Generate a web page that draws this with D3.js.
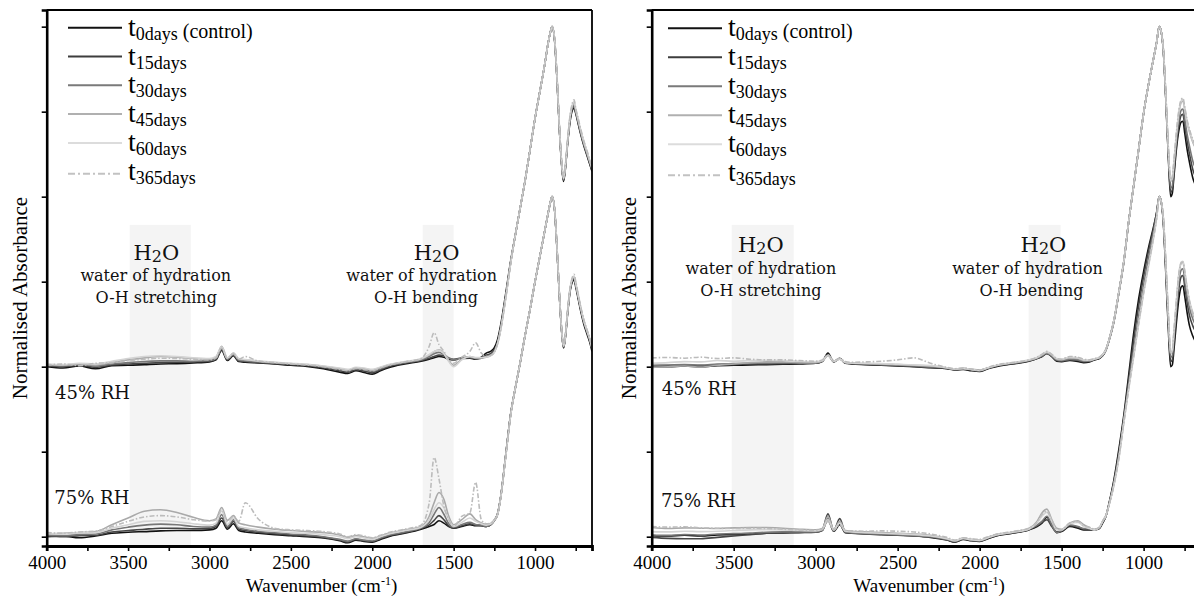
<!DOCTYPE html>
<html><head><meta charset="utf-8">
<script src="https://cdn.jsdelivr.net/npm/d3@7"></script>
<style>body{margin:0;background:#fff}svg{display:block}</style>
</head><body>
<svg id="c" width="1194" height="598"></svg>
<script>
// ---------- DATA ----------
const wavenumbers = [4000,3900,3800,3700,3600,3500,3400,3300,3200,3100,
 3000,2960,2925,2890,2853,2820,2780,2700,2600,2500,
 2400,2300,2200,2150,2100,2050,2000,1950,1900,1800,
 1700,1650,1620,1590,1560,1530,1500,1450,1400,1365,
 1330,1300,1270,1250,1230,1210,1180,1150,1120,1090,
 1060,1030,1000,970,940,920,905,895,880,865,
 850,835,825,815,800,785,770,760,750,735,
 720,700,680,660,650];

const seriesKeys = ["t0","t15","t30","t45","t60","t365"];
const legendSubs = ["0days","15days","30days","45days","60days","365days"];
const legendExtra = [" (control)","","","","",""];
const xTickValues = [4000,3750,3500,3250,3000,2750,2500,2250,2000,1750,1500,1250,1000,750];
const xTickLabels = [4000,3500,3000,2500,2000,1500,1000];
const yTickValues = [0,0.25,0.5,0.75,1,1.25,1.5];
const rhOffsets = {rh45:0.5, rh75:0};

// Left panel, 45% RH
const A45_t0 = [0,-.004,.002,-.006,.003,.004,.006,.008,.009,.011,
 .014,.02,.048,.018,.032,.015,.013,.011,.008,.004,
 .001,-.006,-.016,-.02,-.012,-.017,-.022,-.012,-.003,.008,
 .016,.022,.026,.03,.028,.022,.02,.024,.025,.022,
 .028,.04,.046,.056,.08,.125,.215,.31,.39,.47,
 .55,.64,.73,.81,.89,.95,.985,1,.96,.845,
 .695,.585,.545,.575,.655,.72,.755,.76,.745,.715,
 .685,.65,.62,.59,.575];
const A45_t15 = [.002,0,.004,-.002,.005,.008,.01,.012,.013,.014,
 .016,.022,.05,.02,.034,.017,.015,.012,.009,.006,
 .003,-.003,-.012,-.016,-.009,-.013,-.018,-.009,0,.01,
 .018,.025,.03,.034,.032,.025,.022,.025,.026,.023,
 .025,.034,.039,.049,.073,.118,.208,.306,.39,.47,
 .55,.64,.73,.81,.89,.95,.985,1,.962,.848,
 .698,.588,.548,.578,.658,.725,.76,.765,.748,.718,
 .688,.653,.622,.592,.577];
const A45_t30 = [.004,.002,.006,.002,.008,.012,.015,.017,.017,.016,
 .018,.024,.052,.022,.036,.019,.017,.014,.011,.008,
 .005,-.001,-.008,-.012,-.006,-.009,-.014,-.006,.003,.012,
 .02,.03,.038,.042,.036,.026,.02,.026,.028,.024,
 .025,.03,.035,.045,.07,.115,.205,.305,.39,.47,
 .55,.64,.73,.81,.89,.95,.985,1,.964,.85,
 .7,.59,.55,.58,.66,.728,.764,.77,.75,.72,
 .69,.655,.625,.595,.58];
const A45_t45 = [.006,.004,.008,.005,.012,.02,.026,.03,.028,.024,
 .022,.028,.06,.025,.04,.022,.02,.016,.012,.009,
 .006,.001,-.006,-.01,-.004,-.006,-.01,-.003,.005,.014,
 .022,.034,.044,.05,.04,.018,.004,.022,.03,.026,
 .026,.028,.033,.043,.068,.112,.203,.304,.39,.47,
 .55,.64,.73,.81,.89,.95,.985,1,.965,.852,
 .702,.592,.552,.582,.662,.732,.768,.775,.754,.724,
 .694,.658,.628,.598,.583];
const A45_t60 = [.008,.006,.01,.008,.016,.024,.03,.032,.03,.026,
 .024,.03,.058,.026,.04,.024,.021,.017,.013,.01,
 .007,.002,-.004,-.008,-.002,-.004,-.008,-.001,.006,.015,
 .024,.036,.045,.048,.038,.015,0,.02,.03,.027,
 .027,.028,.033,.042,.067,.11,.2,.302,.39,.47,
 .55,.64,.73,.81,.89,.95,.985,1,.966,.854,
 .704,.594,.554,.584,.664,.735,.772,.78,.758,.728,
 .698,.662,.632,.6,.585];
const A45_t365 = [.004,.008,.003,.01,.012,.018,.022,.025,.024,.022,
 .02,.026,.055,.024,.038,.022,.03,.016,.012,.008,
 .005,0,-.008,-.012,-.005,-.008,-.012,-.004,.004,.014,
 .024,.06,.1,.065,.045,.02,.01,.028,.045,.07,
 .04,.03,.034,.044,.068,.112,.204,.304,.39,.47,
 .55,.64,.73,.81,.89,.95,.985,1,.965,.852,
 .702,.594,.556,.586,.666,.738,.776,.785,.76,.73,
 .7,.664,.634,.602,.587];

// Left panel, 75% RH
const A75_t0 = [0,.002,-.003,.002,.01,.013,.015,.017,.018,.018,
 .02,.025,.047,.022,.038,.018,.014,.01,.006,.003,
 0,-.004,-.012,-.018,-.01,-.014,-.016,-.008,0,.01,
 .022,.03,.036,.047,.04,.03,.025,.03,.035,.032,
 .032,.03,.036,.048,.068,.12,.24,.36,.44,.515,
 .595,.67,.75,.825,.9,.95,.985,1,.962,.845,
 .705,.595,.555,.58,.655,.72,.75,.755,.735,.7,
 .665,.625,.595,.565,.545];
const A75_t15 = [.002,0,.003,.004,.014,.018,.022,.025,.025,.023,
 .024,.03,.055,.026,.045,.022,.018,.013,.009,.005,
 .002,-.002,-.01,-.016,-.008,-.012,-.014,-.006,.002,.012,
 .024,.035,.048,.062,.05,.032,.026,.032,.038,.034,
 .033,.03,.036,.048,.066,.12,.24,.36,.44,.515,
 .595,.67,.75,.825,.9,.95,.985,1,.963,.847,
 .707,.597,.557,.582,.658,.723,.754,.76,.74,.705,
 .67,.63,.6,.57,.55];
const A75_t30 = [.004,.003,.006,.008,.02,.028,.034,.037,.035,.03,
 .028,.034,.065,.03,.05,.026,.022,.016,.012,.008,
 .005,0,-.008,-.013,-.006,-.01,-.012,-.004,.004,.014,
 .026,.042,.066,.086,.066,.038,.028,.036,.042,.036,
 .034,.03,.036,.047,.065,.118,.238,.358,.44,.515,
 .595,.67,.75,.825,.9,.95,.985,1,.964,.849,
 .709,.599,.559,.584,.66,.726,.757,.763,.742,.708,
 .672,.632,.602,.572,.552];
const A75_t45 = [.008,.01,.012,.015,.035,.055,.075,.079,.071,.057,
 .047,.052,.086,.048,.062,.04,.035,.028,.022,.018,
 .015,.012,.005,-.002,.003,0,-.005,.002,.01,.02,
 .03,.06,.1,.13,.11,.06,.035,.05,.067,.05,
 .04,.036,.04,.05,.066,.118,.236,.356,.44,.515,
 .595,.67,.75,.825,.9,.95,.985,1,.965,.85,
 .71,.6,.56,.585,.662,.728,.76,.766,.745,.71,
 .675,.635,.605,.575,.555];
const A75_t60 = [.01,.008,.012,.012,.025,.035,.045,.047,.044,.038,
 .034,.04,.075,.036,.055,.03,.026,.02,.016,.012,
 .01,.006,0,-.006,0,-.004,-.008,0,.008,.018,
 .028,.05,.08,.1,.085,.05,.03,.042,.055,.045,
 .038,.034,.038,.048,.066,.118,.236,.356,.44,.515,
 .595,.67,.75,.825,.9,.95,.985,1,.965,.85,
 .71,.6,.56,.585,.662,.728,.76,.766,.745,.71,
 .675,.635,.605,.575,.555];
const A75_t365 = [.012,.01,.014,.016,.03,.045,.058,.062,.058,.05,
 .046,.05,.08,.045,.06,.045,.1,.052,.025,.02,
 .018,.015,.008,0,.006,.002,-.003,.004,.012,.022,
 .034,.1,.233,.17,.09,.05,.03,.06,.07,.16,
 .05,.038,.04,.05,.066,.118,.236,.356,.44,.515,
 .595,.67,.75,.825,.9,.95,.985,1,.965,.85,
 .71,.6,.56,.585,.664,.73,.764,.772,.75,.714,
 .678,.638,.608,.578,.558];

// Right panel, 45% RH
const B45_t0 = [0,0,.002,0,.003,.004,.005,.006,.007,.008,
 .01,.015,.04,.014,.025,.01,.008,.006,.004,.002,
 0,-.003,-.006,-.01,-.008,-.012,-.014,-.006,0,.008,
 .016,.024,.03,.04,.03,.016,.015,.018,.015,.012,
 .014,.02,.024,.032,.048,.078,.135,.22,.31,.43,
 .535,.64,.745,.83,.905,.955,1,.99,.93,.79,
 .625,.5,.51,.56,.64,.695,.72,.722,.69,.64,
 .6,.555,.53,.51,.5];
const B45_t15 = [.002,.003,.004,.003,.005,.006,.008,.008,.009,.01,
 .011,.016,.036,.015,.024,.011,.009,.007,.005,.003,
 .001,-.002,-.005,-.009,-.007,-.01,-.012,-.005,.002,.009,
 .017,.024,.03,.038,.03,.018,.016,.02,.018,.014,
 .016,.021,.025,.033,.05,.08,.138,.222,.312,.43,
 .535,.64,.745,.83,.905,.955,1,.99,.932,.795,
 .632,.512,.52,.572,.652,.71,.74,.742,.712,.665,
 .625,.58,.555,.535,.525];
const B45_t30 = [.004,.005,.006,.005,.008,.009,.01,.011,.011,.011,
 .012,.017,.034,.016,.023,.012,.01,.008,.006,.004,
 .002,-.001,-.004,-.008,-.005,-.008,-.01,-.004,.003,.01,
 .018,.025,.032,.04,.032,.02,.018,.022,.02,.016,
 .017,.022,.026,.034,.05,.08,.138,.222,.312,.43,
 .535,.64,.745,.83,.905,.955,1,.99,.934,.8,
 .64,.525,.532,.585,.665,.725,.755,.758,.73,.685,
 .648,.605,.58,.56,.55];
const B45_t45 = [-.002,0,.002,-.001,.004,.008,.012,.014,.014,.012,
 .012,.016,.032,.015,.022,.012,.01,.009,.008,.006,
 .004,.002,-.004,-.008,-.006,-.009,-.012,-.004,.003,.011,
 .019,.026,.034,.042,.034,.022,.02,.026,.024,.018,
 .018,.022,.026,.034,.05,.08,.138,.222,.312,.43,
 .535,.64,.745,.83,.905,.955,1,.99,.936,.805,
 .648,.545,.552,.6,.68,.745,.778,.782,.758,.718,
 .69,.66,.64,.625,.615];
const B45_t60 = [.01,.012,.015,.014,.018,.016,.018,.019,.018,.016,
 .015,.018,.033,.016,.023,.013,.011,.01,.009,.007,
 .005,.003,-.003,-.007,-.005,-.008,-.011,-.003,.004,.012,
 .02,.027,.036,.044,.036,.024,.022,.028,.026,.02,
 .019,.023,.027,.035,.05,.08,.138,.222,.312,.43,
 .535,.64,.745,.83,.905,.955,1,.99,.936,.806,
 .65,.548,.555,.604,.685,.75,.782,.786,.762,.722,
 .694,.664,.644,.628,.618];
const B45_t365 = [.026,.027,.025,.028,.024,.026,.022,.02,.02,.018,
 .016,.02,.035,.018,.025,.015,.013,.014,.016,.02,
 .026,.01,-.002,-.006,-.004,-.007,-.01,-.002,.005,.012,
 .02,.028,.036,.045,.036,.024,.022,.03,.028,.022,
 .02,.024,.028,.036,.05,.08,.138,.222,.312,.43,
 .535,.64,.745,.83,.905,.955,1,.99,.936,.806,
 .652,.55,.558,.606,.688,.754,.786,.79,.766,.726,
 .698,.668,.648,.632,.622];

// Right panel, 75% RH
const B75_t0 = [.003,.002,.004,.002,.005,.006,.008,.01,.011,.012,
 .013,.018,.05,.016,.035,.012,.01,.008,.006,.004,
 .002,-.002,-.01,-.016,-.008,-.012,-.014,-.006,.002,.01,
 .02,.03,.04,.057,.035,.012,.015,.03,.025,.02,
 .02,.02,.024,.04,.06,.1,.17,.26,.36,.48,
 .6,.7,.78,.85,.91,.955,1,.99,.925,.78,
 .62,.5,.505,.55,.63,.7,.735,.738,.71,.66,
 .62,.59,.57,.55,.54];
const B75_t15 = [-.002,-.005,-.006,-.006,-.002,.002,.006,.01,.012,.013,
 .014,.02,.067,.018,.053,.014,.011,.009,.007,.005,
 .003,-.001,-.009,-.015,-.007,-.011,-.013,-.005,.003,.011,
 .021,.032,.042,.05,.03,.014,.017,.032,.028,.022,
 .022,.021,.025,.042,.06,.098,.165,.25,.35,.465,
 .58,.68,.765,.84,.905,.955,1,.99,.93,.79,
 .635,.515,.52,.57,.655,.73,.765,.768,.74,.69,
 .65,.62,.6,.58,.57];
const B75_t30 = [.005,.004,.006,.005,.008,.009,.011,.013,.014,.014,
 .014,.019,.055,.017,.042,.013,.011,.009,.007,.005,
 .003,0,-.008,-.014,-.006,-.01,-.012,-.004,.004,.012,
 .022,.034,.045,.06,.035,.012,.018,.035,.03,.024,
 .024,.02,.026,.044,.061,.096,.16,.242,.345,.452,
 .55,.65,.74,.82,.895,.95,1,.99,.935,.8,
 .648,.528,.532,.585,.672,.75,.785,.788,.76,.71,
 .672,.64,.62,.605,.595];
const B75_t45 = [.027,.024,.026,.025,.024,.026,.027,.027,.025,.022,
 .02,.024,.06,.022,.045,.018,.016,.014,.012,.01,
 .008,.004,-.005,-.012,-.004,-.008,-.01,-.002,.006,.014,
 .024,.045,.07,.081,.05,.025,.022,.04,.047,.035,
 .026,.02,.027,.045,.062,.095,.155,.235,.34,.44,
 .535,.63,.72,.8,.88,.94,1,.99,.94,.81,
 .66,.54,.545,.6,.69,.77,.805,.807,.78,.73,
 .69,.655,.635,.62,.61];
const B75_t60 = [.015,.014,.016,.015,.016,.018,.02,.021,.02,.018,
 .017,.021,.05,.02,.04,.016,.014,.012,.01,.008,
 .006,.002,-.006,-.012,-.005,-.009,-.011,-.003,.005,.013,
 .022,.04,.06,.072,.045,.02,.02,.038,.042,.03,
 .024,.02,.027,.045,.062,.094,.153,.232,.336,.436,
 .53,.625,.715,.795,.875,.938,1,.99,.94,.812,
 .662,.542,.548,.604,.694,.774,.808,.81,.784,.734,
 .694,.66,.64,.625,.615];
const B75_t365 = [.03,.028,.029,.026,.025,.024,.025,.024,.022,.02,
 .019,.022,.045,.02,.035,.018,.017,.016,.017,.016,
 .014,.008,-.002,-.01,-.003,-.006,-.008,0,.007,.015,
 .025,.042,.065,.075,.048,.022,.02,.04,.044,.032,
 .028,.022,.028,.046,.063,.095,.155,.236,.34,.44,
 .535,.63,.72,.8,.88,.94,1,.99,.94,.81,
 .66,.54,.546,.602,.692,.772,.806,.808,.782,.732,
 .692,.658,.638,.622,.612];

// ---------- STYLE / LAYOUT ----------
const lineColors = {t0:"#111111",t15:"#454545",t30:"#777777",t45:"#a9a9a9",t60:"#d4d4d4",t365:"#bcbcbc"};
const legendColors = {t0:"#111111",t15:"#3d3d3d",t30:"#7a7a7a",t45:"#b0b0b0",t60:"#dcdcdc",t365:"#c2c2c2"};
const dashes = {t365:"5,2,1.5,2"};

const panels = [
  { x0:46.7, x1:592,
    data:{ rh45:[A45_t0,A45_t15,A45_t30,A45_t45,A45_t60,A45_t365],
           rh75:[A75_t0,A75_t15,A75_t30,A75_t45,A75_t60,A75_t365] },
    bands:[[3490,3115],[1690,1500]],
    ann:[{wH:3327,wL1:3330,wL2:3327,lines:["water of hydration","O-H stretching"]},
         {wH:1605,wL1:1697,wL2:1670,lines:["water of hydration","O-H bending"]}],
    annY:260, annStep:[21.3,43.3],
    rh:[{t:"45% RH",w:3949,v:0.405},{t:"75% RH",w:3953,v:0.096}],
    leg:{l0:21.3,l1:75.3,tx:81.3,base0:37.7,step:28.8},
    ylab:{x:20,y:298}, xlab:321.5 },
  { x0:651.7, x1:1201,
    data:{ rh45:[B45_t0,B45_t15,B45_t30,B45_t45,B45_t60,B45_t365],
           rh75:[B75_t0,B75_t15,B75_t30,B75_t45,B75_t60,B75_t365] },
    bands:[[3512,3134],[1701,1506]],
    ann:[{wH:3334,wL1:3334,wL2:3334,lines:["water of hydration","O-H stretching"]},
         {wH:1611,wL1:1708,wL2:1684,lines:["water of hydration","O-H bending"]}],
    annY:252, annStep:[22,43.7],
    rh:[{t:"45% RH",w:3939,v:0.417},{t:"75% RH",w:3943,v:0.087}],
    leg:{l0:16.3,l1:70.3,tx:76.3,base0:38.3,step:29},
    ylab:{x:628.3,y:298}, xlab:929 }
];

const svg = d3.select("#c");
const y = d3.scaleLinear().domain([-0.0274, 1.549]).range([546, 10]);
const serif = "'Liberation Serif','Times New Roman',serif";
const annFont = "'DejaVu Serif',serif";

panels.forEach((p,pi) => {
  const x = d3.scaleLinear().domain([4000,650]).range([p.x0,p.x1]);
  const g = svg.append("g");
  const clipId = "clip"+pi;
  svg.append("clipPath").attr("id",clipId).append("rect")
    .attr("x",p.x0).attr("y",y.range()[1]).attr("width",p.x1-p.x0).attr("height",y.range()[0]-y.range()[1]);

  // shaded bands
  p.bands.forEach(b => {
    g.append("rect").attr("x",x(b[0])).attr("width",x(b[1])-x(b[0]))
      .attr("y",y(0.917)).attr("height",y(y.domain()[0])-y(0.917))
      .attr("fill","#f4f4f4");
  });

  // spectra
  const lg = g.append("g").attr("clip-path",`url(#${clipId})`);
  ["rh45","rh75"].forEach(rk => {
    p.data[rk].forEach((vals,si) => {
      const key = seriesKeys[si];
      const line = d3.line().x((d,i)=>x(wavenumbers[i])).y(d=>y(d+rhOffsets[rk])).curve(d3.curveMonotoneX);
      lg.append("path").attr("d",line(vals)).attr("fill","none")
        .attr("stroke",lineColors[key]).attr("stroke-width",1.6)
        .attr("stroke-dasharray",dashes[key]||null).attr("stroke-linejoin","round");
    });
  });

  // frame top/right
  g.append("line").attr("x1",p.x0).attr("x2",p.x1).attr("y1",10).attr("y2",10).attr("stroke","#000").attr("stroke-width",1.8);
  g.append("line").attr("x1",p.x1).attr("x2",p.x1).attr("y1",10).attr("y2",546).attr("stroke","#000").attr("stroke-width",1.8);

  // axes
  const xa = d3.axisBottom(x).tickValues(xTickValues).tickSize(5)
     .tickFormat(d => xTickLabels.includes(d) ? d : "");
  const xg = g.append("g").attr("transform","translate(0,546)").call(xa);
  xg.select(".domain").attr("stroke","#000").attr("stroke-width",2.8);
  xg.selectAll(".tick line").attr("stroke","#000").attr("stroke-width",1.6);
  xg.selectAll(".tick text").attr("y",23).attr("dy",0).style("font-family",serif).style("font-size","19px").attr("fill","#000");

  const ya = d3.axisLeft(y).tickValues(yTickValues).tickSize(5).tickFormat("");
  const yg = g.append("g").attr("transform",`translate(${p.x0},0)`).call(ya);
  yg.select(".domain").attr("stroke","#000").attr("stroke-width",2.6);
  yg.selectAll(".tick line").attr("stroke","#000").attr("stroke-width",1.6);

  // axis titles
  g.append("text").attr("transform",`translate(${p.ylab.x},${p.ylab.y}) rotate(-90)`)
    .attr("text-anchor","middle").attr("dy","0.35em")
    .style("font-family",serif).style("font-size","21px").text("Normalised Absorbance");
  const xt = g.append("text").attr("x",p.xlab).attr("y",592).attr("text-anchor","middle")
    .style("font-family",serif).style("font-size","19px");
  xt.append("tspan").text("Wavenumber (cm");
  xt.append("tspan").text("-1").style("font-size","12px").attr("dy",-7);
  xt.append("tspan").text(")").attr("dy",7);

  // annotations
  p.ann.forEach(a => {
    const h = g.append("text").attr("x",x(a.wH)).attr("y",p.annY).attr("text-anchor","middle")
      .style("font-family",annFont).style("font-size","21px").attr("fill","#111");
    h.append("tspan").text("H");
    h.append("tspan").text("2").style("font-size","16px").attr("dy",2);
    h.append("tspan").text("O").attr("dy",-2);
    g.append("text").attr("x",x(a.wL1)).attr("y",p.annY+p.annStep[0]).attr("text-anchor","middle")
      .style("font-family",annFont).style("font-size","16px").attr("fill","#111").text(a.lines[0]);
    g.append("text").attr("x",x(a.wL2)).attr("y",p.annY+p.annStep[1]).attr("text-anchor","middle")
      .style("font-family",annFont).style("font-size","16px").attr("fill","#111").text(a.lines[1]);
  });
  p.rh.forEach(r => {
    g.append("text").attr("x",x(r.w)).attr("y",y(r.v))
      .style("font-family",annFont).style("font-size","18px").attr("fill","#111").text(r.t);
  });

  // legend
  seriesKeys.forEach((k,i) => {
    const base = p.leg.base0 + i*p.leg.step;
    const ly = base - (k==="t365" ? 8 : 10);
    g.append("line").attr("x1",p.x0+p.leg.l0).attr("x2",p.x0+p.leg.l1).attr("y1",ly).attr("y2",ly)
      .attr("stroke",legendColors[k]).attr("stroke-width",2)
      .attr("stroke-dasharray",k==="t365"?"7,3,2,3":null);
    const t = g.append("text").attr("x",p.x0+p.leg.tx).attr("y",base-2).style("font-family",serif).attr("fill","#000");
    t.append("tspan").text("t").style("font-size","28px");
    t.append("tspan").text(legendSubs[i]).style("font-size","18px").attr("dy",4);
    if (legendExtra[i]) t.append("tspan").text(legendExtra[i]).style("font-size","20px").attr("dy",-2);
  });
});
</script>
</body></html>
